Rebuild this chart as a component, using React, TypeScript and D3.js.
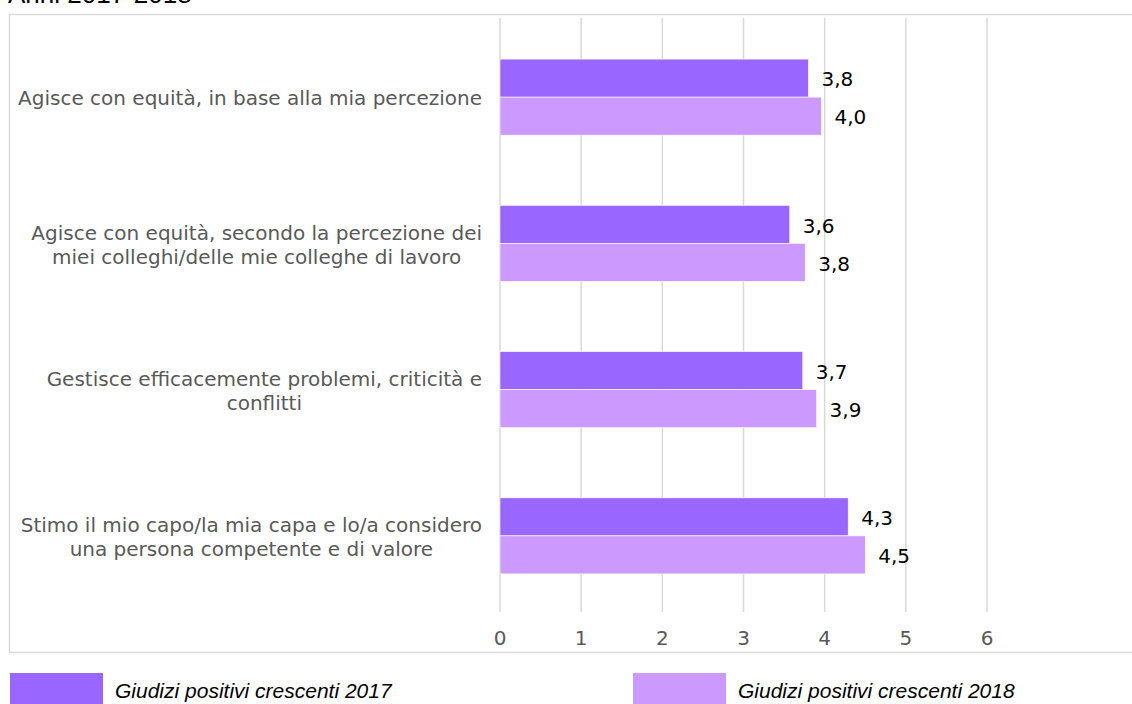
import React, { useEffect, useRef } from 'react';
import * as d3 from 'd3';

// categories (each one split into the lines shown in the chart)
const categories = [
  ['Agisce con equità, in base alla mia percezione'],
  ['Agisce con equità, secondo la percezione dei', 'miei colleghi/delle mie colleghe di lavoro'],
  ['Gestisce efficacemente problemi, criticità e', 'conflitti'],
  ['Stimo il mio capo/la mia capa e lo/a considero', 'una persona competente e di valore'],
];

const values2017 = [3.8, 3.57, 3.73, 4.29];
const values2018 = [3.96, 3.76, 3.9, 4.5];

const seriesNames = ['Giudizi positivi crescenti 2017', 'Giudizi positivi crescenti 2018'];
const seriesColors = ['#9966ff', '#cc99ff'];
const xTicks = [0, 1, 2, 3, 4, 5, 6];

const W = 1132;
const H = 704;

const App = () => {
  const ref = useRef<SVGSVGElement>(null);

  useEffect(() => {
    const svg = d3.select(ref.current);
    svg.selectAll('*').remove();

    const x = d3.scaleLinear().domain([0, 6]).range([500, 987]);
    const y = d3
      .scaleBand<number>()
      .domain(d3.range(categories.length))
      .range([24, 609])
      .paddingInner(0.48)
      .paddingOuter(0.24);
    const sub = d3.scaleBand<number>().domain([0, 1]).range([0, y.bandwidth()]);

    // title, cut off at the top edge
    svg
      .append('text')
      .attr('x', 8)
      .attr('y', 3)
      .attr('font-family', 'Liberation Sans, Arial, sans-serif')
      .attr('font-size', 26)
      .attr('fill', '#000')
      .text('Anni 2017-2018');

    // chart frame
    svg
      .append('rect')
      .attr('x', 9.5)
      .attr('y', 14.5)
      .attr('width', 1130)
      .attr('height', 638)
      .attr('fill', '#fff')
      .attr('stroke', '#d9d9d9')
      .attr('stroke-width', 1.5);

    // gridlines
    svg
      .append('g')
      .selectAll('line')
      .data(xTicks)
      .enter()
      .append('line')
      .attr('x1', (d) => x(d))
      .attr('x2', (d) => x(d))
      .attr('y1', 18)
      .attr('y2', 612)
      .attr('stroke', '#d9d9d9')
      .attr('stroke-width', 1.5);

    // tick labels
    svg
      .append('g')
      .selectAll('text')
      .data(xTicks)
      .enter()
      .append('text')
      .attr('x', (d) => x(d))
      .attr('y', 638)
      .attr('dy', '0.36em')
      .attr('text-anchor', 'middle')
      .attr('font-family', 'DejaVu Sans, Verdana, sans-serif')
      .attr('font-size', 20)
      .attr('fill', '#595959')
      .text((d) => String(d));

    const series = [values2017, values2018];
    series.forEach((vals, s) => {
      const g = svg.append('g');
      g.selectAll('rect')
        .data(vals)
        .enter()
        .append('rect')
        .attr('x', x(0))
        .attr('y', (_, i) => (y(i) as number) + (sub(s) as number))
        .attr('width', (d) => x(d) - x(0))
        .attr('height', sub.bandwidth())
        .attr('fill', seriesColors[s])
        .attr('stroke', '#fff')
        .attr('stroke-width', 0.6);

      g.selectAll('text')
        .data(vals)
        .enter()
        .append('text')
        .attr('x', (d) => x(d) + 13)
        .attr('y', (_, i) => (y(i) as number) + (sub(s) as number) + sub.bandwidth() / 2 + 1)
        .attr('dy', '0.36em')
        .attr('font-family', 'DejaVu Sans, Verdana, sans-serif')
        .attr('font-size', 20)
        .attr('fill', '#000')
        .text((d) => d.toFixed(1).replace('.', ','));
    });

    // category labels: lines centred, block right-aligned against the axis
    const labelRight = 482;
    const lineH = 24;
    categories.forEach((lines, i) => {
      const cy = (y(i) as number) + y.bandwidth() / 2 + 1;
      const t = svg
        .append('text')
        .attr('font-family', 'DejaVu Sans, Verdana, sans-serif')
        .attr('font-size', 20)
        .attr('fill', '#595959')
        .attr('text-anchor', 'middle');
      const spans = lines.map((line, k) =>
        t
          .append('tspan')
          .attr('y', cy + (k - (lines.length - 1) / 2) * lineH)
          .attr('dy', '0.36em')
          .text(line)
      );
      const maxW = d3.max(spans, (sp) => (sp.node() as SVGTSpanElement).getComputedTextLength()) || 0;
      spans.forEach((sp) => sp.attr('x', labelRight - maxW / 2));
    });

    // legend
    const legendX = [10, 633];
    seriesNames.forEach((name, s) => {
      svg
        .append('rect')
        .attr('x', legendX[s])
        .attr('y', 673)
        .attr('width', 93)
        .attr('height', 31)
        .attr('fill', seriesColors[s]);
      svg
        .append('text')
        .attr('x', legendX[s] + 105)
        .attr('y', 690)
        .attr('dy', '0.36em')
        .attr('font-family', 'Liberation Sans, Arial, sans-serif')
        .attr('font-style', 'italic')
        .attr('font-size', 21)
        .attr('fill', '#000')
        .text(name);
    });
  }, []);

  return (
    <svg
      ref={ref}
      width={W}
      height={H}
      style={{ position: 'absolute', left: 0, top: 0, background: '#fff' }}
    />
  );
};

export default App;
